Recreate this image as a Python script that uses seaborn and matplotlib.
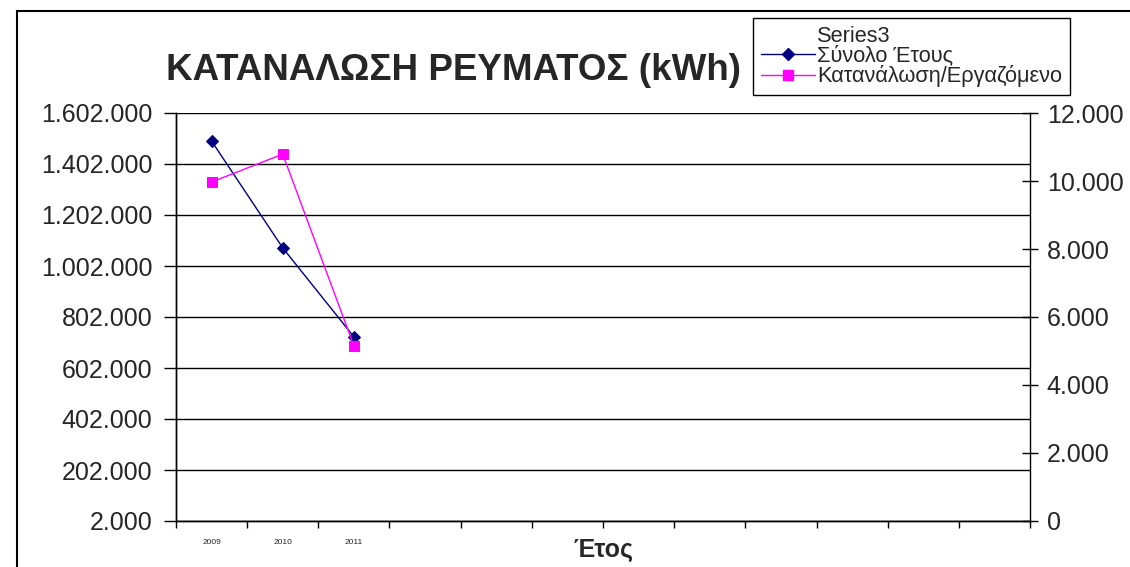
import numpy as np
import pandas as pd
import seaborn as sns
import matplotlib
import matplotlib.pyplot as plt
from matplotlib.lines import Line2D
from matplotlib.patches import Rectangle

# Data
years = ["2009", "2010", "2011"]
total_year = [1492000, 1073000, 724000]        # Σύνολο Έτους (left axis)
per_employee = [9970, 10790, 5150]             # Κατανάλωση/Εργαζόμενο (right axis)
n_slots = 12                                   # empty category slots on the x axis
left_ticks = [2000 + 200000 * k for k in range(9)]
right_ticks = [0, 2000, 4000, 6000, 8000, 10000, 12000]

title = "ΚΑΤΑΝΑΛΩΣΗ ΡΕΥΜΑΤΟΣ (kWh)"
xlabel = "Έτος"
legend_labels = ["Series3", "Σύνολο Έτους", "Κατανάλωση/Εργαζόμενο"]


def dotted(v):
    return "{:,}".format(int(v)).replace(",", ".")


sns.set_style("white")
plt.rcParams['font.family'] = ['Liberation Sans', 'DejaVu Sans']

df = pd.DataFrame({"pos": np.arange(len(years)), "year": years,
                   "total": total_year, "per_emp": per_employee})

fig = plt.figure(figsize=(11.3, 5.67), dpi=100)
ax = fig.add_axes([176 / 1130, 1 - 521 / 567, (1030 - 176) / 1130, (521 - 113) / 567])
ax2 = ax.twinx()

navy = "#000080"
magenta = "#FF00FF"
sns.lineplot(data=df, x="pos", y="total", ax=ax, color=navy, marker="D",
             markersize=6, markeredgecolor=navy, linewidth=1)
sns.lineplot(data=df, x="pos", y="per_emp", ax=ax2, color=magenta, marker="s",
             markersize=7, markeredgecolor=magenta, linewidth=1)

# left axis
ax.set_ylim(left_ticks[0], left_ticks[-1])
ax.set_yticks(left_ticks)
ax.set_yticklabels([dotted(v) for v in left_ticks])
ax.grid(axis="y", color="black", linewidth=1)
ax.tick_params(axis="y", direction="out", length=9, width=1, labelsize=18, pad=8,
               left=True, color="black")

# right axis
ax2.set_ylim(right_ticks[0], right_ticks[-1])
ax2.set_yticks(right_ticks)
ax2.set_yticklabels([dotted(v) for v in right_ticks])
ax2.tick_params(axis="y", direction="inout", length=12, width=1, labelsize=18, pad=6,
                color="black")

# category x axis with ticks between categories
ax.set_xlim(-0.5, n_slots - 0.5)
ax.set_xticks(np.arange(len(years)))
ax.set_xticklabels(years)
ax.set_xticks(np.arange(n_slots + 1) - 0.5, minor=True)
ax.tick_params(axis="x", which="major", length=0, labelsize=6, pad=13)
ax.tick_params(axis="x", which="minor", length=5, width=1, direction="out",
               bottom=True, color="black")
ax.set_xlabel(xlabel, fontsize=18, fontweight="bold", labelpad=-6)
ax.set_ylabel("")
ax2.set_ylabel("")

for a in (ax, ax2):
    a.spines["top"].set_visible(False)
    for s in ("left", "right", "bottom"):
        a.spines[s].set_color("black")
        a.spines[s].set_linewidth(1)
ax.spines["right"].set_visible(False)

fig.text(454 / 1130, 1 - 71 / 567, title, fontsize=26.5, fontweight="bold",
         ha="center", va="center")

handles = [Line2D([], [], color="none"),
           Line2D([], [], color=navy, marker="D", markersize=6, linewidth=1),
           Line2D([], [], color=magenta, marker="s", markersize=7, linewidth=1)]
leg = fig.legend(handles, legend_labels, loc="upper left",
                 bbox_to_anchor=(753 / 1130, 1 - 18 / 567), fontsize=15.7,
                 frameon=True, fancybox=False, framealpha=1, edgecolor="black",
                 handlelength=2.5, handletextpad=0.1, labelspacing=-0.05,
                 borderpad=0.35, borderaxespad=0)
leg.get_frame().set_linewidth(1)

fig.patches.append(Rectangle((17 / 1130, -0.1), 1.2, 1 - 11 / 567 + 0.1,
                             transform=fig.transFigure, fill=False,
                             edgecolor="black", linewidth=1.5))

fig.savefig("out.png", dpi=100)
